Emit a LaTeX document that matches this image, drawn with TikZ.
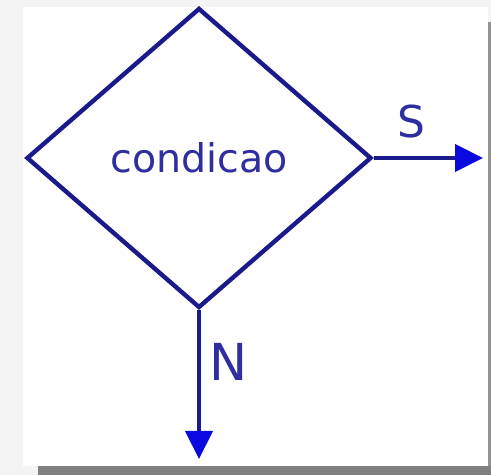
\documentclass[tikz,border=0pt]{standalone}
\usepackage{fontspec}
\setmainfont{DejaVu Sans}
\usetikzlibrary{arrows.meta,shapes.geometric}
\definecolor{flowline}{HTML}{1A1A8C}
\definecolor{flowhead}{HTML}{0A0AE0}
\definecolor{flowtext}{HTML}{2E2EA0}
\definecolor{paper}{HTML}{F4F4F4}
\definecolor{shadowgray}{HTML}{808080}

\begin{document}
\begin{tikzpicture}[
    x=0.02cm, y=-0.02cm,
    decision/.style={diamond, draw=flowline, line width=2.5pt, fill=white,
                     minimum width=6.9cm, minimum height=6cm, inner sep=0pt,
                     font=\fontsize{22.5}{25}\selectfont, text=flowtext},
    branch/.style={line width=2.5pt, flowline,
                   -{Triangle[length=0.56cm, width=0.54cm, color=flowhead]}},
    blabel/.style={inner sep=0pt, text=flowtext},
]

    % ============================================================
    %  PAGE (background, white sheet, shadow)
    % ============================================================
    \fill[paper] (0,0) rectangle (491,475);
    \fill[white] (23,7) rectangle (488,466);
    \fill[shadowgray!85!white] (488,22) rectangle (491,466);
    \fill[shadowgray] (38,466) rectangle (491,475);
    \useasboundingbox (0,0) rectangle (491,475);

    % ============================================================
    %  NODES
    % ============================================================
    \node[decision] (cond) at (199,158) {condicao};
    \coordinate (yesend) at (483,158);
    \coordinate (noend) at (199,459);

    % ============================================================
    %  BRANCHES
    % ============================================================
    \draw[branch] (cond.east) -- (yesend);
    \draw[branch] (cond.south) -- (noend);

    \node[blabel, font=\fontsize{25}{28}\selectfont] (slabel) at (411.5,122) {S};
    \node[blabel, font=\fontsize{29}{32}\selectfont] (nlabel) at (229,361.5) {N};

\end{tikzpicture}
\end{document}
